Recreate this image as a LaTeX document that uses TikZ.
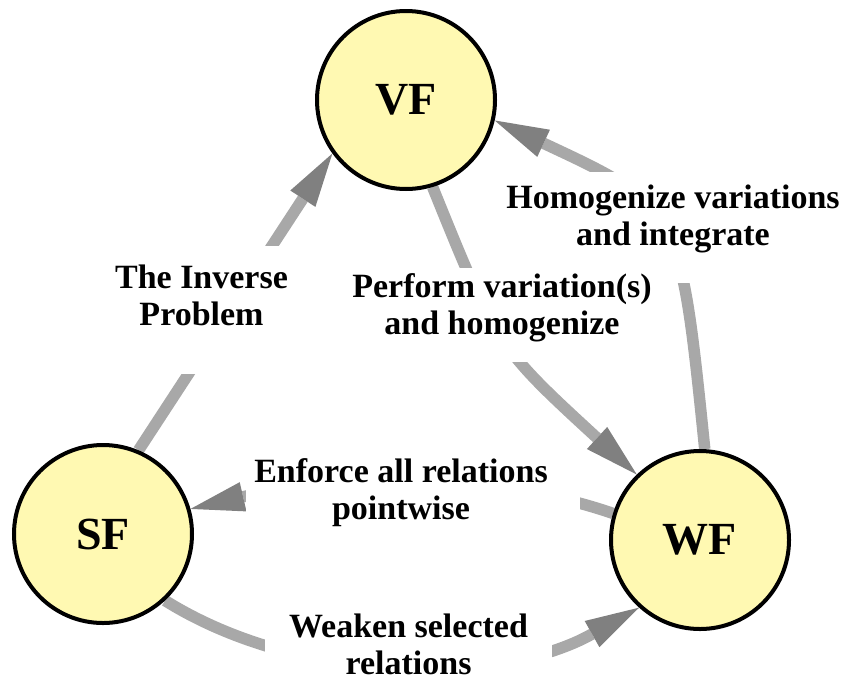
\documentclass[tikz,border=0pt]{standalone}
\usepackage{fontspec}
\setmainfont{Liberation Serif}
\usetikzlibrary{arrows.meta}
\definecolor{nodefill}{RGB}{255,249,178}
\definecolor{shaftgray}{RGB}{168,168,168}
\definecolor{headgray}{RGB}{128,128,128}
\pgfdeclarelayer{bg}
\pgfdeclarelayer{mask}
\pgfsetlayers{bg,mask,main}
\begin{document}
\begin{tikzpicture}[x=1pt,y=-1pt,
  state/.style={circle,draw=black,line width=4pt,fill=nodefill,minimum size=178pt,inner sep=0pt,
    font=\fontsize{46}{50}\selectfont\bfseries},
  conn/.style={draw=shaftgray,line width=11.5pt,
    -{Triangle[length=54pt,width=30pt,line width=0pt,color=headgray,fill=headgray]}},
  lbl/.style={align=center,inner sep=0pt,font=\fontsize{34}{37}\selectfont\bfseries},
  gapfill/.style={fill=white}]
\useasboundingbox (0,0) rectangle (850,683);
% states
\node[state] (VF) at (406,100) {VF};
\node[state] (SF) at (103,534) {SF};
\node[state] (WF) at (700,540) {WF};
% connectors
\begin{pgfonlayer}{bg}
\draw[conn] (SF.67) -- (VF.216);
\draw[conn] (VF.-73) .. controls (497,346) and (497,346) .. (WF.134);
\draw[conn] (WF.87) .. controls (680,207) and (680,207) .. (VF.-13);
\draw[conn] (WF.163) .. controls +(-132.4,-45.4) and +(136.4,-31.5) .. (SF.16);
\draw[conn] (SF.-47) .. controls +(136,85) and +(-139,78) .. (WF.-132);
\end{pgfonlayer}
% gaps behind labels
\begin{pgfonlayer}{mask}
\fill[gapfill] (105,246) rectangle (300,374);
\fill[gapfill] (345,268) rectangle (660,362);
\fill[gapfill] (500,172) rectangle (850,283);
\fill[gapfill] (246,452) rectangle (580,534);
\fill[gapfill] (265,605) rectangle (552,683);
\end{pgfonlayer}
% labels
\node[lbl] (l1) at (201.5,295) {The Inverse\\Problem};
\node[lbl] (l2) at (502,308) {Perform variation(s)\\and homogenize};
\node[lbl] (l3) at (673,219) {Homogenize variations\\and integrate};
\node[lbl] (l4) at (401,493) {Enforce all relations\\pointwise};
\node[lbl] (l5) at (408.5,644) {Weaken selected\\relations};
\end{tikzpicture}
\end{document}
